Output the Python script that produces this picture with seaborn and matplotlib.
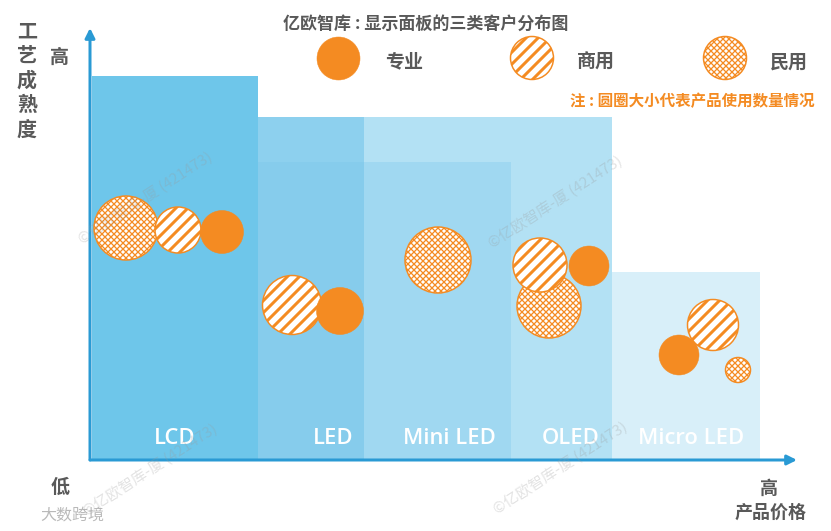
import numpy as np
import pandas as pd
import matplotlib
matplotlib.use("Agg")
import matplotlib.pyplot as plt
import seaborn as sns

# ---------------- data ----------------
# panel technologies (x: product price span, height: process maturity)
panels = ["LCD", "LED", "Mini LED", "OLED", "Micro LED"]
panel_left = [2, 168, 274, 421, 522]
panel_right = [168, 274, 421, 522, 670]
panel_height = [384, 343, 343, 343, 188]
# inner band shared by LED and Mini LED
band_left = [168, 274]
band_right = [274, 421]
band_height = [298, 298]

# customer bubbles
bubble_type = ["民用", "商用", "专业",
               "商用", "专业",
               "民用",
               "商用", "民用", "专业",
               "商用", "专业", "民用"]
bubble_price = [36, 88, 132,
                202, 250,
                348,
                450, 459, 499,
                623, 589, 648]
bubble_maturity = [232, 230, 228,
                   155, 149,
                   200,
                   195, 154, 194,
                   135, 105, 90]
bubble_radius = [32, 23, 21.5,
                 29.5, 23.5,
                 33,
                 27, 32, 20,
                 25.5, 20, 12.5]

legend_types = ["专业", "商用", "民用"]

# ---------------- style ----------------
W, H, DPI = 831, 531, 72
sns.set_theme(style="white")
plt.rcParams["font.family"] = ["Noto Sans CJK SC", "DejaVu Sans"]

panel_colors = ["#6EC6EA", "#8DD0EE", "#B3E1F4", "#B3E1F4", "#D8EFF9"]
band_colors = ["#86CCEC", "#A0D8F1"]
ORANGE = "#F48B22"
GRAY = "#595959"
AXIS = "#2A9AD4"

fig = plt.figure(figsize=(W / DPI, H / DPI), dpi=DPI)
fig.patch.set_facecolor("white")
ax_l, ax_r, ax_t, ax_b = 90, 800, 20, 460
ax = fig.add_axes([ax_l / W, (H - ax_b) / H, (ax_r - ax_l) / W, (ax_b - ax_t) / H])
ax.set_xlim(0, ax_r - ax_l)
ax.set_ylim(0, ax_b - ax_t)
ax.set_facecolor("none")
for s in ax.spines.values():
    s.set_visible(False)
ax.set_xticks([])
ax.set_yticks([])


def px(x, y):
    return x / W, 1 - y / H


# bars
for l, r, h, c in zip(panel_left, panel_right, panel_height, panel_colors):
    ax.bar(l, h, width=r - l, align="edge", color=c, linewidth=0, zorder=1)
for l, r, h, c in zip(band_left, band_right, band_height, band_colors):
    ax.bar(l, h, width=r - l, align="edge", color=c, linewidth=0, zorder=1.5)

label_x = [85, 243, 359, 481, 601]
for name, lx in zip(panels, label_x):
    ax.text(lx, 21, name, ha="center", va="center", color="white",
            fontsize=22, fontweight="semibold", family=["Open Sans", "DejaVu Sans"], zorder=2)

# bubbles
df = pd.DataFrame({"type": bubble_type, "price": bubble_price,
                   "maturity": bubble_maturity, "radius": bubble_radius})
df["area"] = (2 * df["radius"]) ** 2
amin, amax = df["area"].min(), df["area"].max()

styles = {
    "民用": dict(color="white", edgecolor=ORANGE, hatch="xxxx", linewidth=1.5, hlw=1.3),
    "商用": dict(color="white", edgecolor=ORANGE, hatch="//", linewidth=1.5, hlw=3.0),
    "专业": dict(color=ORANGE, edgecolor=ORANGE, hatch=None, linewidth=0.5, hlw=1.0),
}
for z, t in enumerate(["民用", "商用", "专业"]):
    st = styles[t]
    with plt.rc_context({"hatch.linewidth": st["hlw"]}):
        sns.scatterplot(data=df[df["type"] == t], x="price", y="maturity",
                        size="area", sizes=(amin, amax), size_norm=(amin, amax),
                        color=st["color"], edgecolor=st["edgecolor"], hatch=st["hatch"],
                        linewidth=st["linewidth"], legend=False, ax=ax, zorder=3 + z)
ax.set_xlabel("")
ax.set_ylabel("")

# legend markers
leg_px = [338, 532, 725]
leg_text_px = [404, 596, 789]
for t, lx, tx in zip(legend_types, leg_px, leg_text_px):
    st = styles[t]
    with plt.rc_context({"hatch.linewidth": st["hlw"]}):
        ax.scatter([lx - ax_l], [ax_b - 58], s=(2 * 21.5) ** 2, color=st["color"],
                   edgecolor=st["edgecolor"], hatch=st["hatch"], linewidth=st["linewidth"],
                   zorder=5, clip_on=False)
    fig.text(*px(tx, 62), t, ha="center", va="center", fontsize=19,
             fontweight="bold", color=GRAY)

# axes arrows
ax.annotate("", xy=(0, ax_b - 28), xytext=(0, 0), xycoords="data",
            arrowprops=dict(arrowstyle="-|>", color=AXIS, lw=3, mutation_scale=20,
                            shrinkA=0, shrinkB=0), annotation_clip=False, zorder=6)
ax.annotate("", xy=(797 - ax_l, 0), xytext=(0, 0), xycoords="data",
            arrowprops=dict(arrowstyle="-|>", color=AXIS, lw=3, mutation_scale=20,
                            shrinkA=0, shrinkB=0), annotation_clip=False, zorder=6)

# texts
fig.text(*px(426, 24), "亿欧智库 : 显示面板的三类客户分布图", ha="center", va="center",
         fontsize=17, fontweight="bold", color=GRAY)
fig.text(*px(815, 101), "注 : 圆圈大小代表产品使用数量情况", ha="right", va="center",
         fontsize=15.5, fontweight="bold", color=ORANGE, style="italic")
fig.text(*px(27, 80), "工\n艺\n成\n熟\n度", ha="center", va="center", fontsize=20,
         fontweight="bold", color=GRAY, linespacing=1.2)
fig.text(*px(59, 57), "高", ha="center", va="center", fontsize=19, fontweight="bold", color=GRAY)
fig.text(*px(60, 487), "低", ha="center", va="center", fontsize=19, fontweight="bold", color=GRAY)
fig.text(*px(769, 489), "高", ha="center", va="center", fontsize=18, fontweight="bold", color=GRAY)
fig.text(*px(771, 513), "产品价格", ha="center", va="center", fontsize=18, fontweight="bold", color=GRAY)

# watermarks
for wx, wy in [(145, 198), (555, 202), (150, 470), (560, 468)]:
    fig.text(*px(wx, wy), "©亿欧智库-厦 (421473)", ha="center", va="center",
             fontsize=15, color="#9A9A9A", alpha=0.28, rotation=33, zorder=10)
fig.text(*px(40, 515), "大数跨境", ha="left", va="center", fontsize=16,
         color="#A8A8A8", alpha=0.8)

fig.savefig("out.png", dpi=DPI, facecolor="white")
